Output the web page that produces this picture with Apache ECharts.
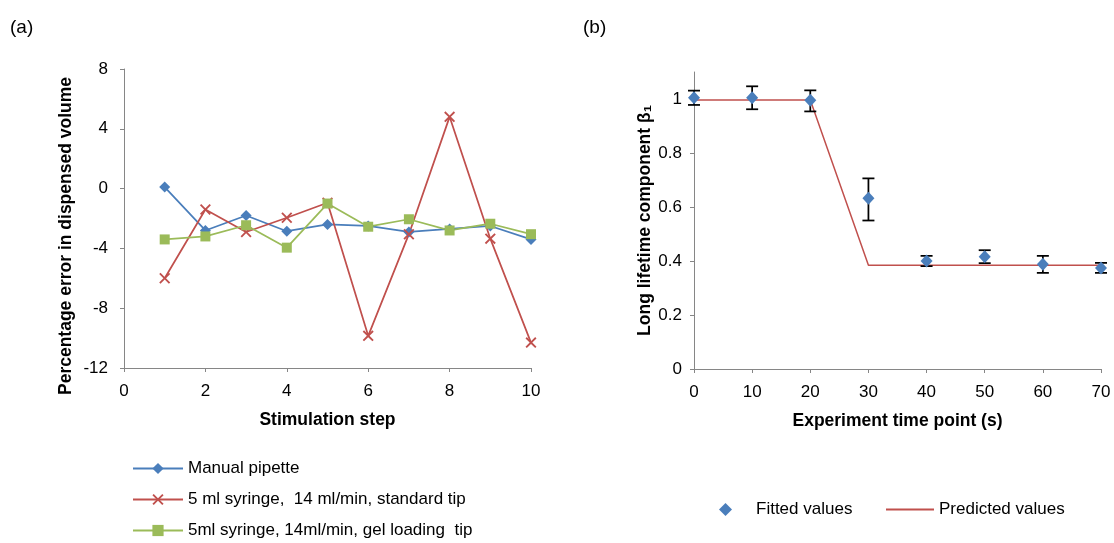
<!DOCTYPE html>
<html>
<head>
<meta charset="utf-8">
<script src="https://cdn.jsdelivr.net/npm/echarts@6/dist/echarts.min.js"></script>
<style>html,body{margin:0;padding:0;background:#fff}#c{width:1114px;height:543px}</style>
</head>
<body>
<div id="c"></div>
<script>
// ---- Panel (a) data ----
const steps = [1, 2, 3, 4, 5, 6, 7, 8, 9, 10];
const manualPipette = [0.1, -2.8, -1.8, -2.85, -2.4, -2.5, -2.9, -2.7, -2.5, -3.4];
const syringeStandard = [-6.0, -1.4, -2.9, -1.95, -0.95, -9.85, -3.05, 4.8, -3.35, -10.3];
const syringeGel = [-3.4, -3.2, -2.45, -3.95, -1.0, -2.55, -2.05, -2.8, -2.35, -3.05];
const yTicksA = [-12, -8, -4, 0, 4, 8];
const seriesNamesA = ['Manual pipette', '5 ml syringe,  14 ml/min, standard tip', '5ml syringe, 14ml/min, gel loading  tip'];

// ---- Panel (b) data ----
const timePoints = [0, 10, 20, 30, 40, 50, 60, 70];
const fitted = [1.005, 1.005, 0.995, 0.632, 0.400, 0.416, 0.388, 0.374];
const errLow = [0.978, 0.962, 0.954, 0.550, 0.381, 0.392, 0.356, 0.356];
const errHigh = [1.031, 1.047, 1.032, 0.706, 0.419, 0.440, 0.419, 0.393];
const predicted = [0.996, 0.996, 0.996, 0.384, 0.384, 0.384, 0.384, 0.384];
const yTicksB = [0, 0.2, 0.4, 0.6, 0.8, 1];

const FONT = "'Liberation Sans', Arial, sans-serif";
const BLUE = '#4A7EBB', RED = '#C0504D', GREEN = '#9BBB59', AXIS = '#868686';
const XPATH = 'path://M0,1.2 L1.2,0 L5,3.8 L8.8,0 L10,1.2 L6.2,5 L10,8.8 L8.8,10 L5,6.2 L1.2,10 L0,8.8 L3.8,5 Z';

const axisCommon = {
  axisLine: { show: true, onZero: false, lineStyle: { color: AXIS, width: 1 } },
  axisTick: { show: true, length: 4, lineStyle: { color: AXIS } },
  splitLine: { show: false },
  axisLabel: { color: '#000', fontSize: 17, fontFamily: FONT },
  nameTextStyle: { color: '#000', fontSize: 17.5, fontWeight: 'bold', fontFamily: FONT },
  nameLocation: 'middle'
};
const legendText = { fontSize: 17, fontFamily: FONT, color: '#000' };

const chart = echarts.init(document.getElementById('c'), null, { renderer: 'canvas', width: 1114, height: 543 });

const option = {
  backgroundColor: '#fff',
  animation: false,
  textStyle: { fontFamily: FONT },
  graphic: [
    { type: 'text', left: 10, top: 18, style: { text: '(a)', fontSize: 19, fontFamily: FONT, fill: '#000' } },
    { type: 'text', left: 583, top: 18, style: { text: '(b)', fontSize: 19, fontFamily: FONT, fill: '#000' } }
  ],
  legend: [
    { left: 127, top: 455, itemWidth: 50, itemHeight: 14, textStyle: legendText, data: [seriesNamesA[0]] },
    { left: 127, top: 486, itemWidth: 50, itemHeight: 14, textStyle: legendText, data: [seriesNamesA[1]] },
    { left: 127, top: 517, itemWidth: 50, itemHeight: 14, textStyle: legendText, data: [seriesNamesA[2]] },
    {
      left: 714, top: 496, itemWidth: 13, itemHeight: 13,
      textStyle: Object.assign({}, legendText, { padding: [0, 0, 0, 19] }),
      data: [{ name: 'Fitted values', icon: 'diamond' }]
    },
    {
      left: 881, top: 496, itemWidth: 48, itemHeight: 2,
      textStyle: legendText,
      data: [{ name: 'Predicted values', icon: 'rect' }]
    }
  ],
  grid: [
    { left: 124, right: 583, top: 69, bottom: 175, containLabel: false },
    { left: 694, right: 13, top: 72, bottom: 174, containLabel: false }
  ],
  xAxis: [
    Object.assign({}, axisCommon, {
      type: 'value', gridIndex: 0, min: 0, max: 10, interval: 2,
      name: 'Stimulation step', nameGap: 43,
      axisLabel: Object.assign({}, axisCommon.axisLabel, { margin: 15 })
    }),
    Object.assign({}, axisCommon, {
      type: 'value', gridIndex: 1, min: 0, max: 70, interval: 10,
      name: 'Experiment time point (s)', nameGap: 43,
      axisLabel: Object.assign({}, axisCommon.axisLabel, { margin: 15 })
    })
  ],
  yAxis: [
    Object.assign({}, axisCommon, {
      type: 'value', gridIndex: 0, min: -12, max: 8, interval: 4,
      name: 'Percentage error in dispensed volume', nameGap: 49,
      nameTextStyle: Object.assign({}, axisCommon.nameTextStyle, { padding: [0, 35, 0, 0] }),
      axisLabel: Object.assign({}, axisCommon.axisLabel, { margin: 16, customValues: yTicksA }),
      axisTick: Object.assign({}, axisCommon.axisTick, { customValues: yTicksA })
    }),
    Object.assign({}, axisCommon, {
      type: 'value', gridIndex: 1, min: 0, max: 1.1,
      name: 'Long lifetime component β₁', nameGap: 40,
      axisLabel: Object.assign({}, axisCommon.axisLabel, { margin: 12, customValues: yTicksB }),
      axisTick: Object.assign({}, axisCommon.axisTick, { customValues: yTicksB })
    })
  ],
  series: [
    {
      name: seriesNamesA[0], type: 'line', xAxisIndex: 0, yAxisIndex: 0,
      data: steps.map((s, i) => [s, manualPipette[i]]),
      symbol: 'diamond', symbolSize: [11, 11], showAllSymbol: true,
      lineStyle: { color: BLUE, width: 1.75 }, itemStyle: { color: BLUE }
    },
    {
      name: seriesNamesA[1], type: 'line', xAxisIndex: 0, yAxisIndex: 0,
      data: steps.map((s, i) => [s, syringeStandard[i]]),
      symbol: XPATH, symbolSize: 11, showAllSymbol: true,
      lineStyle: { color: RED, width: 1.75 }, itemStyle: { color: RED }
    },
    {
      name: seriesNamesA[2], type: 'line', xAxisIndex: 0, yAxisIndex: 0,
      data: steps.map((s, i) => [s, syringeGel[i]]),
      symbol: 'rect', symbolSize: 10, showAllSymbol: true,
      lineStyle: { color: GREEN, width: 1.75 }, itemStyle: { color: GREEN }
    },
    {
      name: 'Predicted values', type: 'line', xAxisIndex: 1, yAxisIndex: 1,
      data: timePoints.map((t, i) => [t, predicted[i]]),
      symbol: 'none', lineStyle: { color: RED, width: 1.5 }, itemStyle: { color: RED }, z: 2
    },
    {
      name: 'errorbars', type: 'custom', xAxisIndex: 1, yAxisIndex: 1,
      data: timePoints.map((t, i) => [t, errLow[i], errHigh[i]]),
      renderItem: function (params, api) {
        const lo = api.coord([api.value(0), api.value(1)]);
        const hi = api.coord([api.value(0), api.value(2)]);
        const w = 6;
        const st = { stroke: '#000', lineWidth: 1.75 };
        return {
          type: 'group', children: [
            { type: 'line', shape: { x1: lo[0], y1: lo[1], x2: hi[0], y2: hi[1] }, style: st },
            { type: 'line', shape: { x1: lo[0] - w, y1: lo[1], x2: lo[0] + w, y2: lo[1] }, style: st },
            { type: 'line', shape: { x1: hi[0] - w, y1: hi[1], x2: hi[0] + w, y2: hi[1] }, style: st }
          ]
        };
      },
      clip: false, z: 3, silent: true
    },
    {
      name: 'Fitted values', type: 'scatter', xAxisIndex: 1, yAxisIndex: 1,
      data: timePoints.map((t, i) => [t, fitted[i]]),
      symbol: 'diamond', symbolSize: [12, 13], itemStyle: { color: BLUE, opacity: 1 }, clip: false, z: 4
    }
  ]
};
chart.setOption(option);
</script>
</body>
</html>
